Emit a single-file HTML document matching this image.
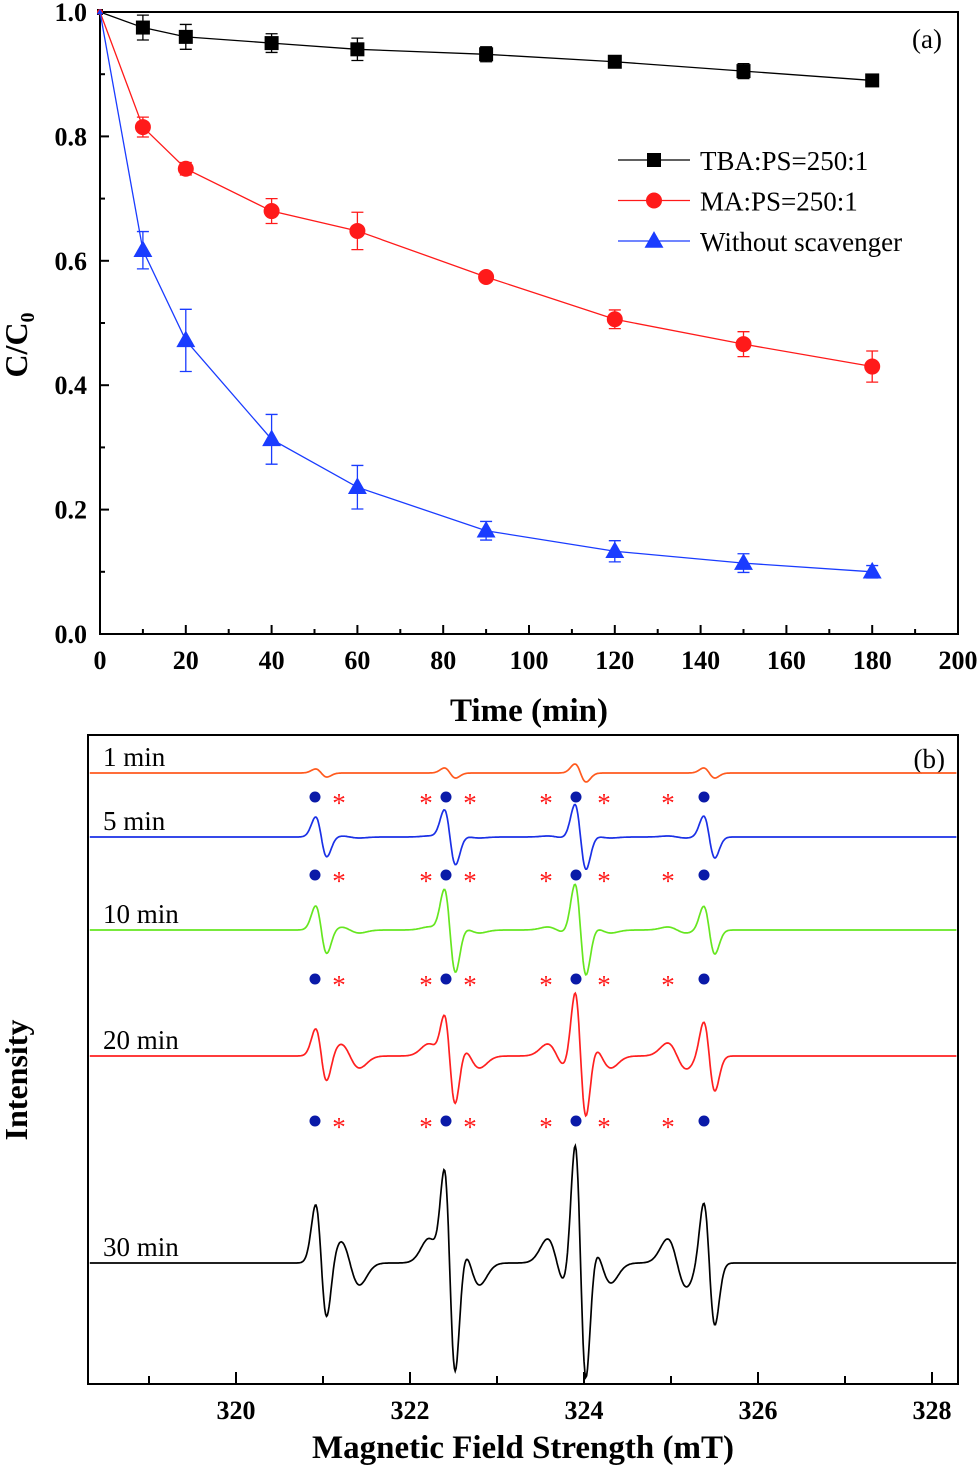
<!DOCTYPE html>
<html><head><meta charset="utf-8"><style>
html,body{margin:0;padding:0;background:#fff}
svg{display:block}
text{font-family:"Liberation Serif",serif}
</style></head><body>
<svg id="fig" width="980" height="1468" viewBox="0 0 980 1468" xmlns="http://www.w3.org/2000/svg"></svg>
<script>
// ---------- Panel (a) data ----------
const times = [0,10,20,40,60,90,120,150,180];
const tbaValues = [1.0,0.975,0.96,0.95,0.94,0.932,0.92,0.905,0.89];
const tbaErr = [0,0.02,0.02,0.015,0.018,0.012,0.005,0.012,0.005];
const maValues = [1.0,0.815,0.748,0.68,0.648,0.574,0.506,0.466,0.43];
const maErr = [0,0.016,0.01,0.02,0.03,0.005,0.015,0.02,0.025];
const noneValues = [1.0,0.617,0.472,0.313,0.236,0.166,0.133,0.114,0.1];
const noneErr = [0,0.03,0.05,0.04,0.035,0.015,0.017,0.015,0.01];
const xTicksA = [0,20,40,60,80,100,120,140,160,180,200];
const yTicksA = ["0.0","0.2","0.4","0.6","0.8","1.0"];
const legendLabels = ["TBA:PS=250:1","MA:PS=250:1","Without scavenger"];

// ---------- Panel (b) data ----------
const traceLabels = ["1 min","5 min","10 min","20 min","30 min"];
const ohPositions = [320.98,322.46,323.96,325.44];
const so4Positions = [321.31,322.32,322.69,323.69,324.2,325.07];
const ohAmps = [[4,5,9,5],[20,28,33,21],[24,43,47,24],[27,50,68,35],[58,112,128,62]];
const so4Amps = [[0,0,0,0,0,0],[1,1,1,1,1,1],[3,3,3,3,3,3],[12,12,12,12,12,13],[22,24,22,24,20,24]];
const xTicksB = [320,322,324,326,328];

const NS="http://www.w3.org/2000/svg";
const svg=document.getElementById('fig');
function el(tag,attrs,parent){const e=document.createElementNS(NS,tag);for(const k in attrs)e.setAttribute(k,attrs[k]);(parent||svg).appendChild(e);return e;}

// ===== Panel A =====
const A={x0:100,x1:958,y0:12,y1:634};
const ax=t=>A.x0+(t/200)*(A.x1-A.x0);
const ay=v=>A.y1-v*(A.y1-A.y0);
const gA=el('g',{});


const frameA=el('rect',{x:A.x0,y:A.y0,width:A.x1-A.x0,height:A.y1-A.y0,fill:'none',stroke:'#000','stroke-width':2},gA);


xTicksA.forEach((t,i)=>{
  el('line',{x1:ax(t),x2:ax(t),y1:A.y1,y2:A.y1-9,stroke:'#000','stroke-width':2},gA);
  if(i<xTicksA.length-1) el('line',{x1:ax(t+10),x2:ax(t+10),y1:A.y1,y2:A.y1-5,stroke:'#000','stroke-width':2},gA);
  const tx=el('text',{x:ax(t),y:669,'text-anchor':'middle','font-size':26,'font-weight':'bold'},gA);
  tx.textContent=t;
  
  
});
yTicksA.forEach((s,i)=>{
  const v=parseFloat(s);
  el('line',{x1:A.x0,x2:A.x0+9,y1:ay(v),y2:ay(v),stroke:'#000','stroke-width':2},gA);
  if(i<yTicksA.length-1) el('line',{x1:A.x0,x2:A.x0+5,y1:ay(v+0.1),y2:ay(v+0.1),stroke:'#000','stroke-width':2},gA);
  const tx=el('text',{x:87,y:ay(v)+9,'text-anchor':'end','font-size':26,'font-weight':'bold'},gA);
  tx.textContent=s;
  
  
});
const xt=el('text',{x:529,y:721,'text-anchor':'middle','font-size':33,'font-weight':'bold'},gA);
xt.textContent='Time (min)';


const yt=el('text',{x:0,y:0,'text-anchor':'middle','font-size':32,'font-weight':'bold',transform:'translate(27,345) rotate(-90)'},gA);
yt.innerHTML='C/C<tspan font-size="20" dy="7">0</tspan>';


const pa=el('text',{x:942,y:48,'text-anchor':'end','font-size':27},gA);
pa.textContent='(a)';



function marker(type,cx,cy,color,size,parent){
  let m;
  if(type==='square') m=el('rect',{x:cx-size,y:cy-size,width:2*size,height:2*size,fill:color},parent);
  else if(type==='circle') m=el('circle',{cx:cx,cy:cy,r:size,fill:color},parent);
  else m=el('polygon',{points:`${cx},${cy-size*1.1} ${cx-size*1.05},${cy+size*0.75} ${cx+size*1.05},${cy+size*0.75}`,fill:color},parent);
  return m;
}
const seriesA=[
  {name:'tba',vals:tbaValues,err:tbaErr,color:'#000',type:'square',size:7},
  {name:'ma',vals:maValues,err:maErr,color:'#ff1a1a',type:'circle',size:8},
  {name:'without-scavenger',vals:noneValues,err:noneErr,color:'#1a3cff',type:'tri',size:9}
];
seriesA.forEach(s=>{
  const g=el('g',{},gA);
  
  
  const ln=el('polyline',{points:times.map((t,i)=>ax(t)+','+ay(s.vals[i])).join(' '),fill:'none',stroke:s.color,'stroke-width':1.3},g);
  
  
  times.forEach((t,i)=>{
    if(s.err[i]>0){
      const x=ax(t),yt1=ay(s.vals[i]+s.err[i]),yb=ay(s.vals[i]-s.err[i]);
      const eb=el('path',{d:`M${x},${yt1}V${yb}M${x-6},${yt1}H${x+6}M${x-6},${yb}H${x+6}`,stroke:s.color,'stroke-width':1.3,fill:'none'},g);
      
      
    }
    const m=marker(s.type,ax(t),ay(s.vals[i]),s.color,i===0?3:s.size,g);
    
    
  });
});
// legend
const lg=el('g',{},gA);


seriesA.forEach((s,i)=>{
  const y=160+i*40.5;
  const e=el('g',{},lg);
  
  
  el('line',{x1:618,x2:690,y1:y,y2:y,stroke:s.color,'stroke-width':1.3},e);
  marker(s.type,654,y,s.color,s.size,e);
  const t=el('text',{x:700,y:y+10,'font-size':27},e);
  t.textContent=legendLabels[i];
});

// ===== Panel B =====
const B={x0:88,x1:958,y0:735,y1:1384};
const bx=f=>236+(f-320)*87;
const baselines=[773,837,930,1056,1263];
const colors=['#ff5a1e','#1a30e6','#66e620','#ff2020','#000'];
const gB=el('g',{});


const frameB=el('rect',{x:B.x0,y:B.y0,width:B.x1-B.x0,height:B.y1-B.y0,fill:'none',stroke:'#000','stroke-width':2},gB);


for(let f=319;f<=328;f++){
  const major=f%2===0;
  el('line',{x1:bx(f),x2:bx(f),y1:B.y1,y2:B.y1-(major?12:8),stroke:'#000','stroke-width':2},gB);
}
xTicksB.forEach(f=>{
  const t=el('text',{x:bx(f),y:1419,'text-anchor':'middle','font-size':26,'font-weight':'bold'},gB);
  t.textContent=f;
  
  
});
const xtb=el('text',{x:523,y:1458,'text-anchor':'middle','font-size':33,'font-weight':'bold'},gB);
xtb.textContent='Magnetic Field Strength (mT)';


const ytb=el('text',{x:0,y:0,'text-anchor':'middle','font-size':32,'font-weight':'bold',transform:'translate(27,1080) rotate(-90)'},gB);
ytb.textContent='Intensity';


const pb=el('text',{x:945,y:768,'text-anchor':'end','font-size':27},gB);
pb.textContent='(b)';



function dg(x,c,s){const u=(x-c)/s;return -u*Math.exp(0.5-u*u/2);}
traceLabels.forEach((lab,k)=>{
  const g=el('g',{},gB);
  
  
  let pts=[];
  for(let f=318.32;f<=328.28;f+=0.01){
    let y=0;
    ohPositions.forEach((p,i)=>{y+=ohAmps[k][i]*dg(f,p,0.065);});
    so4Positions.forEach((p,i)=>{y+=so4Amps[k][i]*dg(f,p,0.11);});
    pts.push(bx(f).toFixed(1)+','+(baselines[k]-y).toFixed(1));
  }
  el('polyline',{points:pts.join(' '),fill:'none',stroke:colors[k],'stroke-width':1.7},g);
  const t=el('text',{x:103,y:baselines[k]-7,'font-size':27},g);
  t.textContent=lab;
  
  
});
// markers rows
const markerRows=[797,875,979,1121];
markerRows.forEach(y=>{
  const g=el('g',{},gB);
  
  
  [315,446,576,704].forEach(x=>el('circle',{cx:x,cy:y,r:5.5,fill:'#0a1aa8'},g));
  [339,426,470,546,604,668].forEach(x=>{
    const t=el('text',{x:x,y:y+15,'text-anchor':'middle','font-size':27,fill:'#ff1a1a'},g);
    t.textContent='*';
  });
});
</script>
</body></html>
